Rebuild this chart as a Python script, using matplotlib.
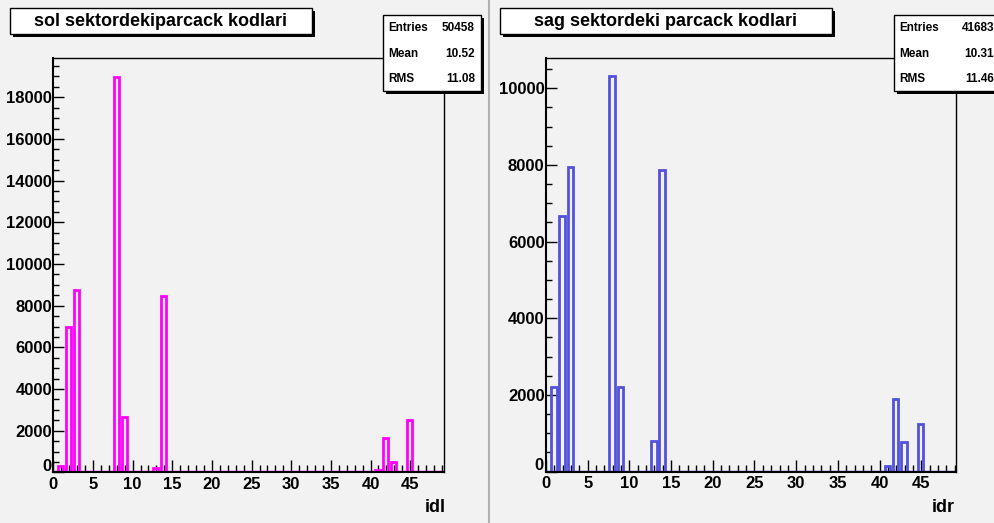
import matplotlib
matplotlib.use("Agg")
import matplotlib.pyplot as plt
from matplotlib.patches import Rectangle
from matplotlib.lines import Line2D
from matplotlib.ticker import MultipleLocator, FuncFormatter

# ---- data ----
bins_left = [1, 2, 3, 8, 9, 13, 14, 41, 42, 43, 45]
counts_left = [300, 7000, 8750, 18990, 2650, 230, 8480, 100, 1640, 500, 2510]
bins_right = [1, 2, 3, 8, 9, 13, 14, 41, 42, 43, 45]
counts_right = [2210, 6670, 7940, 10320, 2210, 800, 7870, 140, 1880, 760, 1240]

title_left = "sol sektordekiparcack kodlari"
title_right = "sag sektordeki parcack kodlari"
xlabel_left = "idl"
xlabel_right = "idr"
stats_left = [("Entries", "50458"), ("Mean", "10.52"), ("RMS", "11.08")]
stats_right = [("Entries", "41683"), ("Mean", "10.31"), ("RMS", "11.46")]

FONT = "Liberation Sans"
BG = "#f2f2f2"
W, H = 994, 523
fig = plt.figure(figsize=(W / 100, H / 100), dpi=100, facecolor=BG)


def fx(px):
    return px / W


def fy(py):
    return 1 - py / H


def box(x0, y0, x1, y1, shadow=3):
    fig.add_artist(Rectangle((fx(x0 + shadow), fy(y1 + shadow)), fx(x1 - x0), (y1 - y0) / H,
                             transform=fig.transFigure, facecolor="black", edgecolor="black",
                             lw=0, zorder=10))
    fig.add_artist(Rectangle((fx(x0), fy(y1)), fx(x1 - x0), (y1 - y0) / H,
                             transform=fig.transFigure, facecolor="white", edgecolor="black",
                             lw=1.0, zorder=11))


def panel(rect_px, bins, counts, color, ymax, ymajor, title, tbox, stats, sbox, xlabel, xlab_pos):
    x0, y0, x1, y1 = rect_px
    ax = fig.add_axes([fx(x0), fy(y1), fx(x1 - x0), (y1 - y0) / H])
    ax.set_facecolor(BG)
    ax.bar([b - 0.07 for b in bins], counts, width=0.66, facecolor="none",
           edgecolor=color, lw=2.0, zorder=2)
    ax.axhline(0, color=color, lw=2.5, zorder=2)
    ax.set_xlim(0, 49.2)
    ax.set_ylim(0, ymax)
    ax.xaxis.set_major_locator(MultipleLocator(5))
    ax.xaxis.set_minor_locator(MultipleLocator(1))
    ax.yaxis.set_major_locator(MultipleLocator(ymajor))
    ax.yaxis.set_minor_locator(MultipleLocator(500))
    ax.yaxis.set_major_formatter(FuncFormatter(lambda v, p: "" if v == 0 else f"{v:.0f}"))
    ax.tick_params(axis="x", which="major", direction="in", length=9, width=1.0, pad=3,
                   top=False, labelsize=12)
    ax.tick_params(axis="x", which="minor", direction="in", length=4.8, width=1.0, top=False)
    ax.tick_params(axis="y", which="major", direction="in", length=8, width=1.0, pad=1,
                   right=False, labelsize=12)
    ax.tick_params(axis="y", which="minor", direction="in", length=4.3, width=1.0, right=False)
    for lab in ax.get_xticklabels() + ax.get_yticklabels():
        lab.set_fontfamily(FONT)
        lab.set_fontweight("bold")
    # y-axis zero label, nudged up a little so it does not sit on the x "0"
    ax.annotate("0", xy=(0, 0), xycoords="data", xytext=(-1.5, 4), textcoords="offset points",
                ha="right", va="center", fontsize=12, fontweight="bold", family=FONT,
                annotation_clip=False)
    for s in ax.spines.values():
        s.set_color("black")
    ax.spines["left"].set_linewidth(1.5)
    ax.spines["bottom"].set_linewidth(1.5)
    ax.spines["top"].set_linewidth(1.0)
    ax.spines["right"].set_linewidth(1.0)
    for t in ax.xaxis.get_major_ticks() + ax.xaxis.get_minor_ticks():
        t.tick1line.set_zorder(5)
    # title box
    bx0, by0, bx1, by1 = tbox
    box(bx0, by0, bx1, by1)
    fig.text(fx((bx0 + bx1) / 2), fy((by0 + by1) / 2 + 0.5), title, ha="center", va="center",
             fontsize=13, fontweight="bold", family=FONT, zorder=12)
    # stats box
    sx0, sy0, sx1, sy1 = sbox
    box(sx0, sy0, sx1, sy1)
    rows_y = [28, 54, 79]
    for (k, v), ry in zip(stats, rows_y):
        fig.text(fx(sx0 + 5), fy(ry), k, ha="left", va="center", fontsize=8.5,
                 fontweight="bold", family=FONT, zorder=12)
        fig.text(fx(sx1 - 6), fy(ry), v, ha="right", va="center", fontsize=8.5,
                 fontweight="bold", family=FONT, zorder=12)
    fig.text(fx(xlab_pos[0]), fy(xlab_pos[1]), xlabel, ha="center", va="center",
             fontsize=13, fontweight="bold", family=FONT)
    return ax


panel((53.3, 58.3, 443.5, 472.4), bins_left, counts_left, "#ff00ff", 19870, 2000,
      title_left, (10, 8, 312, 34), stats_left, (383, 15, 481, 91), xlabel_left, (435, 508))
panel((546, 58, 956.3, 471.5), bins_right, counts_right, "#5252dc", 10790, 2000,
      title_right, (500, 8, 832, 34), stats_right, (894, 15, 1000, 91), xlabel_right, (943, 508))

# pad divider
fig.add_artist(Line2D([fx(488.5), fx(488.5)], [0, 1], transform=fig.transFigure,
                      color="#b0b0b0", lw=1.5))

fig.savefig("out.png", dpi=100, facecolor=BG)
